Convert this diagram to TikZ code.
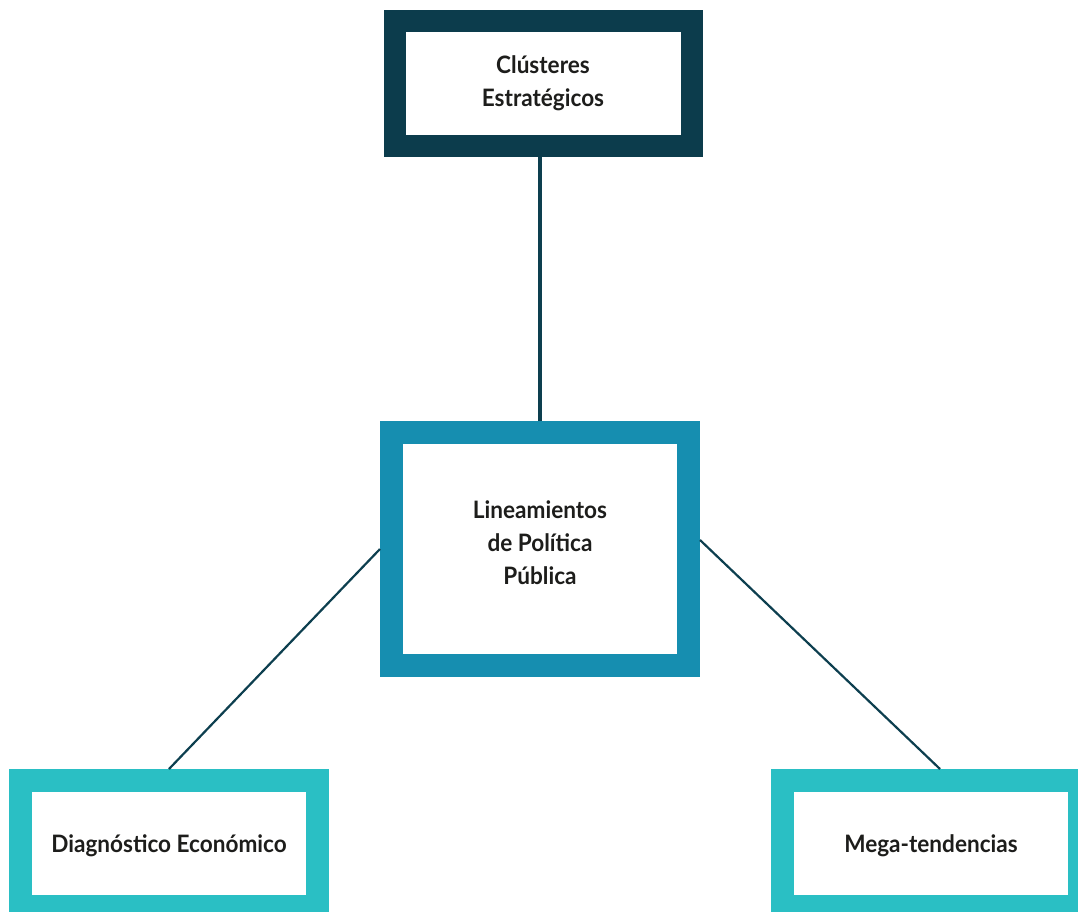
\documentclass[tikz,border=0pt]{standalone}
\usepackage{fontspec}
\setmainfont{Lato}[FakeStretch=0.94]
\definecolor{cluster}{HTML}{0C3C4C}
\definecolor{lineam}{HTML}{168EB0}
\definecolor{base}{HTML}{2ABFC4}
\definecolor{link}{HTML}{0D3F4F}
\definecolor{txt}{HTML}{1D1D1B}
\begin{document}
\begin{tikzpicture}[x=1pt,y=-1pt]

      \useasboundingbox (0,0) rectangle (1078,911);
      \clip (0,0) rectangle (1078,911);

      \begin{scope}[every node/.style={draw, fill=white, line width=23pt, outer sep=11.5pt,
          inner sep=0pt, minimum width=297pt, align=center, text=txt,
          font=\bfseries\fontsize{24}{33}\selectfont}]
        \node[draw=cluster, line width=22pt, outer sep=11pt, minimum height=125pt] (cl) at (543,83.5) {Clústeres\\Estratégicos};
        \node[draw=lineam, minimum height=233pt, text depth=12pt] (li) at (540,549) {Lineamientos\\de Política\\Pública};
        \node[draw=base, minimum height=126pt, text depth=0pt] (di) at (169,843.5) {Diagnóstico Económico};
        \node[draw=base, minimum height=126pt, text depth=0pt] (me) at (931,843.5) {Mega-tendencias};
      \end{scope}

      \begin{scope}[every edge/.style={draw=link, line width=2.2pt}]
        \path (li.north) edge[line width=3.5pt] (li.north |- cl.south);
        \path (li.west) edge (di.north);
        \path ([yshift=9pt]li.east) edge ([xshift=9pt]me.north);
      \end{scope}

    \end{tikzpicture}
\end{document}
